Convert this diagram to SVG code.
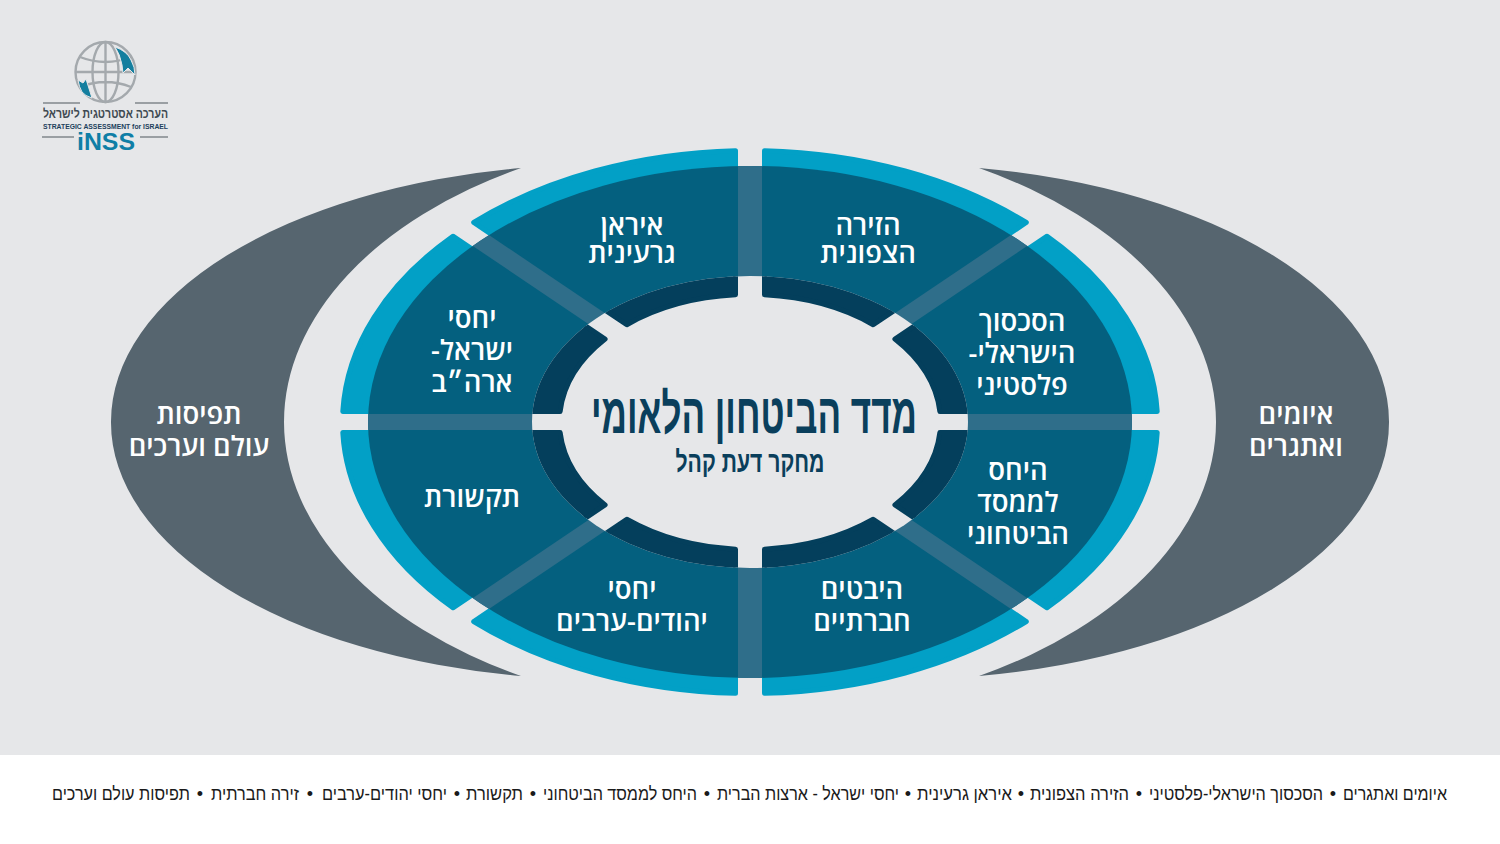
<svg xmlns="http://www.w3.org/2000/svg" xmlns:xlink="http://www.w3.org/1999/xlink" width="1500" height="844" viewBox="0 0 1500 844">
<style>
.light{fill:#02a0c6;stroke:#02a0c6;stroke-width:5;stroke-linejoin:round}
.mid{fill:#04607f}
.inner{fill:#043f5c;stroke:#043f5c;stroke-width:5;stroke-linejoin:round}
.spoke{fill:#2f6e8a}
.lbl{font-family:"Open Sans","Liberation Sans",sans-serif;font-size:27.5px;font-weight:600;fill:#fff;text-anchor:middle;direction:rtl}
.side{fill:#56656f}
.title{font-family:"Liberation Sans",sans-serif;font-weight:700;fill:#0a3f5c;direction:rtl;text-anchor:middle}
.logoLine{stroke:#9a9fa3;stroke-width:2;fill:none}
.globe{stroke:#a4a9ad;stroke-width:2.4;fill:none}
.foot{text-anchor:middle}
</style>
<defs>
<path id="lightA" class="light" d="M14.5,-271.33A407.5 271.5 0 0 1 276.3,-199.5L242.6,-176.9L14.5,-240Z"/>
<path id="lightB" class="light" d="M297.1,-185.8A407.5 271.5 0 0 1 407.2,-10.5L350,-10.5L263.7,-163.4Z"/>
<path id="midA" class="mid" d="M0,0L0,-256A382 256 0 0 1 269.7,-181.3Z"/>
<path id="midB" class="mid" d="M0,0L269.7,-181.3A382 256 0 0 1 382,0Z"/>
<path id="innerA" class="inner" d="M14.5,-127.13A190.5 127.5 0 0 1 123.2,-97.3L175.9,-132.7L14.5,-160Z"/>
<path id="innerB" class="inner" d="M144.9,-82.9A190.5 127.5 0 0 1 189.85,-10.5L230,-10.5L197.6,-118.3Z"/>
<clipPath id="clipMid"><ellipse cx="0" cy="0" rx="382" ry="256"/></clipPath>
<clipPath id="clipHub"><ellipse cx="0" cy="0" rx="218" ry="146"/></clipPath>
</defs>
<rect width="1500" height="844" fill="#e6e7e9"/>
<rect y="755" width="1500" height="89" fill="#fff"/>

<g id="logo">
<circle class="globe" cx="105.5" cy="72" r="30"/>
<ellipse class="globe" cx="105.5" cy="72" rx="13" ry="30" stroke-width="2"/>
<path class="globe" stroke-width="2" d="M105.5,42V102M75.5,72H135.5M80,57Q105.500,67 131,57M80,87Q105.500,77 131,87"/>
<path d="M115,47Q127,51 131,60Q135,67 135,75L128,68L123,73L122,65Q120,54 115,47Z" fill="#147f9f" stroke="#e6e7e9" stroke-width="1"/>
<path d="M78,80L83,83L86,79L92,98Q85,96 82,92Q79,87 78,80Z" fill="#147f9f" stroke="#e6e7e9" stroke-width="1"/>
<path class="logoLine" d="M43,103H80M135,103H168M42,137H74M140,137H168"/>
<text x="105.500" y="118" text-anchor="middle" direction="rtl" font-family="Liberation Sans,sans-serif" font-size="12.500" font-weight="700" fill="#3f4a52" textLength="125" lengthAdjust="spacingAndGlyphs">הערכה אסטרטגית לישראל</text>
<text x="105.500" y="128.500" text-anchor="middle" font-family="Liberation Sans,sans-serif" font-weight="700" font-size="8" fill="#1c3f5c" textLength="125" lengthAdjust="spacingAndGlyphs">STRATEGIC ASSESSMENT for ISRAEL</text>
<text x="106" y="150" text-anchor="middle" font-family="Liberation Sans,sans-serif" font-weight="700" font-size="24" fill="#0f7ea6" textLength="58" lengthAdjust="spacingAndGlyphs">iNSS</text>
</g>

<g id="node-threats">
<path class="side" d="M979,168A489 257 0 0 1 1389,422A489 257 0 0 1 979,676A466 292 0 0 0 1216,422A466 292 0 0 0 979,168Z"/>
<text class="lbl" x="1296" y="424">איומים</text><text class="lbl" x="1296" y="456">ואתגרים</text>
</g>
<g id="node-worldviews">
<path class="side" d="M521,168A489 257 0 0 0 111,422A489 257 0 0 0 521,676A466 292 0 0 1 284,422A466 292 0 0 1 521,168Z"/>
<text class="lbl" x="199" y="424">תפיסות</text><text class="lbl" x="199" y="456">עולם וערכים</text>
</g>

<g id="node-north">
<use href="#lightA" transform="translate(750,422)"/><use href="#midA" transform="translate(750,422)"/>
<text class="lbl" x="868" y="235">הזירה</text><text class="lbl" x="868" y="263">הצפונית</text>
</g>
<g id="node-conflict">
<use href="#lightB" transform="translate(750,422)"/><use href="#midB" transform="translate(750,422)"/>
<text class="lbl" x="1022" y="331">הסכסוך</text><text class="lbl" x="1022" y="363">הישראלי-</text><text class="lbl" x="1022" y="395">פלסטיני</text>
</g>
<g id="node-establishment">
<use href="#lightB" transform="translate(750,422) scale(1,-1)"/><use href="#midB" transform="translate(750,422) scale(1,-1)"/>
<text class="lbl" x="1018" y="480">היחס</text><text class="lbl" x="1018" y="512">לממסד</text><text class="lbl" x="1018" y="544">הביטחוני</text>
</g>
<g id="node-social">
<use href="#lightA" transform="translate(750,422) scale(1,-1)"/><use href="#midA" transform="translate(750,422) scale(1,-1)"/>
<text class="lbl" x="862" y="599">היבטים</text><text class="lbl" x="862" y="631">חברתיים</text>
</g>
<g id="node-jews-arabs">
<use href="#lightA" transform="translate(750,422) scale(-1,-1)"/><use href="#midA" transform="translate(750,422) scale(-1,-1)"/>
<text class="lbl" x="632" y="599">יחסי</text><text class="lbl" x="632" y="631">יהודים-ערבים</text>
</g>
<g id="node-media">
<use href="#lightB" transform="translate(750,422) scale(-1,-1)"/><use href="#midB" transform="translate(750,422) scale(-1,-1)"/>
<text class="lbl" x="472" y="507">תקשורת</text>
</g>
<g id="node-us">
<use href="#lightB" transform="translate(750,422) scale(-1,1)"/><use href="#midB" transform="translate(750,422) scale(-1,1)"/>
<text class="lbl" x="472" y="328">יחסי</text><text class="lbl" x="472" y="360">ישראל-</text><text class="lbl" x="472" y="392">ארה״ב</text>
</g>
<g id="node-iran">
<use href="#lightA" transform="translate(750,422) scale(-1,1)"/><use href="#midA" transform="translate(750,422) scale(-1,1)"/>
<text class="lbl" x="632" y="235">איראן</text><text class="lbl" x="632" y="263">גרעינית</text>
</g>

<g id="connectors" transform="translate(750,422)" clip-path="url(#clipMid)">
<rect class="spoke" x="-400" y="-8" width="800" height="16"/>
<rect class="spoke" x="-12" y="-270" width="24" height="540"/>
<path class="spoke" d="M-5.300,-7.500L396,-278L406,-263L5.300,7.500Z"/>
<path class="spoke" d="M-5.300,7.500L396,278L406,263L5.300,-7.500Z"/>
<path class="spoke" d="M5.300,-7.500L-396,-278L-406,-263L-5.300,7.500Z"/>
<path class="spoke" d="M5.300,7.500L-396,278L-406,263L-5.300,-7.500Z"/>
</g>

<g id="node-hub">
<ellipse cx="750" cy="422" rx="218" ry="146" fill="#e6e7e9"/>
<g transform="translate(750,422)" clip-path="url(#clipHub)">
<use href="#innerA"/><use href="#innerB"/>
<use href="#innerA" transform="scale(1,-1)"/><use href="#innerB" transform="scale(1,-1)"/>
<use href="#innerA" transform="scale(-1,1)"/><use href="#innerB" transform="scale(-1,1)"/>
<use href="#innerA" transform="scale(-1,-1)"/><use href="#innerB" transform="scale(-1,-1)"/>
</g>
<text class="title" x="754" y="433" font-size="56" textLength="326" lengthAdjust="spacingAndGlyphs">מדד הביטחון הלאומי</text>
<text class="title" x="750" y="472" font-size="29" textLength="149" lengthAdjust="spacingAndGlyphs">מחקר דעת קהל</text>
</g>

<text id="footer" y="800" direction="rtl" font-family="Liberation Sans,sans-serif" font-size="18" fill="#1a1a1a"><tspan class="foot" x="1395" textLength="104" lengthAdjust="spacingAndGlyphs">איומים ואתגרים</tspan><tspan class="foot" x="1333">•</tspan><tspan class="foot" x="1236" textLength="174" lengthAdjust="spacingAndGlyphs">הסכסוך הישראלי-פלסטיני</tspan><tspan class="foot" x="1139">•</tspan><tspan class="foot" x="1079.500" textLength="99" lengthAdjust="spacingAndGlyphs">הזירה הצפונית</tspan><tspan class="foot" x="1021">•</tspan><tspan class="foot" x="964.500" textLength="95" lengthAdjust="spacingAndGlyphs">איראן גרעינית</tspan><tspan class="foot" x="908">•</tspan><tspan class="foot" x="808" textLength="182" lengthAdjust="spacingAndGlyphs">יחסי ישראל - ארצות הברית</tspan><tspan class="foot" x="707">•</tspan><tspan class="foot" x="620" textLength="154" lengthAdjust="spacingAndGlyphs">היחס לממסד הביטחוני</tspan><tspan class="foot" x="533">•</tspan><tspan class="foot" x="494.500" textLength="57" lengthAdjust="spacingAndGlyphs">תקשורת</tspan><tspan class="foot" x="457">•</tspan><tspan class="foot" x="384.500" textLength="125" lengthAdjust="spacingAndGlyphs">יחסי יהודים-ערבים</tspan><tspan class="foot" x="310">•</tspan><tspan class="foot" x="255" textLength="88" lengthAdjust="spacingAndGlyphs">זירה חברתית</tspan><tspan class="foot" x="200">•</tspan><tspan class="foot" x="121" textLength="138" lengthAdjust="spacingAndGlyphs">תפיסות עולם וערכים</tspan></text>
</svg>
